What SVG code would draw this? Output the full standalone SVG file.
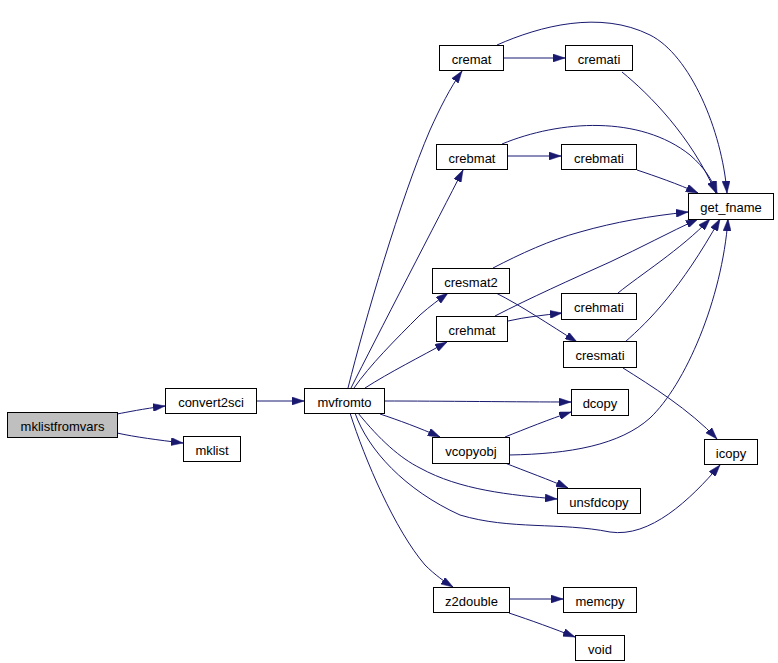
<svg xmlns="http://www.w3.org/2000/svg" width="778" height="663" viewBox="0 0 778 663">
<style>
.node rect{fill:#ffffff;stroke:#000000;stroke-width:1}
.node.root rect{fill:#bfbfbf}
.node text{font-family:"Liberation Sans",Arial,sans-serif;font-size:13px;fill:#000000;text-anchor:middle}
.edges path{fill:none;stroke:#191970;stroke-width:1;marker-end:url(#arr)}
</style>
<defs>
<marker id="arr" viewBox="0 0 12 8" refX="12" refY="4" markerWidth="12" markerHeight="8" markerUnits="userSpaceOnUse" orient="auto">
<path d="M0,0 L12,4 L0,8 Z" fill="#191970" stroke="#191970" stroke-width="0.5"/>
</marker>
</defs>
<rect width="778" height="663" fill="#ffffff"/>
<g class="edges" id="edges">
<path d="M117,414 C128,412 142,409 165,406"/>
<path d="M117,433 C135,437 158,440 183,443"/>
<path d="M256,401 L304,401"/>
<path d="M384,401 C440,401 520,402 571,402"/>
<path d="M380,414 C398,420 420,428 440,437"/>
<path d="M358,413 C380,440 400,458 420,468 C460,490 510,495 557,499"/>
<path d="M355,413 C368,450 405,490 460,515 C510,530 560,522 610,532 C650,538 690,500 720,465"/>
<path d="M350,413 C365,460 395,530 425,565 C435,575 445,582 453,587"/>
<path d="M505,437 C525,429 550,419 571,412"/>
<path d="M505,463 C525,471 550,480 568,488"/>
<path d="M509,455 C570,454 620,445 650,418 C685,385 722,300 728,219"/>
<path d="M509,599 L563,599"/>
<path d="M509,613 C530,620 555,629 575,637"/>
<path d="M348,388 C365,320 400,200 430,130 C440,108 450,88 462,71"/>
<path d="M351,388 C375,340 440,215 463,170"/>
<path d="M354,388 C370,365 395,340 420,315 C430,306 440,299 448,293"/>
<path d="M365,388 C390,372 420,357 447,342"/>
<path d="M503,58 L565,58"/>
<path d="M497,45 C540,26 600,10 650,35 C690,55 722,130 727,193"/>
<path d="M622,72 C650,95 690,135 716,193"/>
<path d="M507,156 L561,156"/>
<path d="M502,144 C560,120 640,115 690,155 C705,168 712,180 717,193"/>
<path d="M637,170 C655,176 678,184 698,193"/>
<path d="M493,268 C520,254 550,240 580,232 C615,222 650,216 688,212"/>
<path d="M495,316 C530,298 570,280 610,262 C640,248 670,232 698,219"/>
<path d="M508,321 C525,317 545,315 562,313"/>
<path d="M496,293 C520,305 550,325 577,342"/>
<path d="M618,293 C640,275 680,250 710,219"/>
<path d="M625,342 C650,320 680,290 720,219"/>
<path d="M623,368 C650,385 690,410 717,439"/>
</g>
<g class="node root" id="mklistfromvars"><rect x="7.5" y="412.5" width="110" height="25"/><text x="62.5" y="430.5">mklistfromvars</text></g>
<g class="node" id="convert2sci"><rect x="165.5" y="388.5" width="91" height="25"/><text x="211" y="406.5">convert2sci</text></g>
<g class="node" id="mklist"><rect x="183.5" y="436.5" width="57" height="25"/><text x="212" y="454.5">mklist</text></g>
<g class="node" id="mvfromto"><rect x="304.5" y="388.5" width="80" height="25"/><text x="344.5" y="406.5">mvfromto</text></g>
<g class="node" id="cremat"><rect x="439.5" y="45.5" width="64" height="25"/><text x="471.5" y="63.5">cremat</text></g>
<g class="node" id="cremati"><rect x="565.5" y="45.5" width="67" height="25"/><text x="599" y="63.5">cremati</text></g>
<g class="node" id="crebmat"><rect x="436.5" y="144.5" width="71" height="25"/><text x="472" y="162.5">crebmat</text></g>
<g class="node" id="crebmati"><rect x="561.5" y="144.5" width="75" height="25"/><text x="599" y="162.5">crebmati</text></g>
<g class="node" id="get_fname"><rect x="688.5" y="193.5" width="85" height="26"/><text x="731" y="212">get_fname</text></g>
<g class="node" id="cresmat2"><rect x="432.5" y="268.5" width="77" height="25"/><text x="471" y="286.5">cresmat2</text></g>
<g class="node" id="crehmat"><rect x="436.5" y="316.5" width="71" height="25"/><text x="472" y="334.5">crehmat</text></g>
<g class="node" id="crehmati"><rect x="561.5" y="293.5" width="75" height="26"/><text x="599" y="312">crehmati</text></g>
<g class="node" id="cresmati"><rect x="563.5" y="341.5" width="73" height="26"/><text x="600" y="360">cresmati</text></g>
<g class="node" id="dcopy"><rect x="571.5" y="389.5" width="57" height="26"/><text x="600" y="408">dcopy</text></g>
<g class="node" id="vcopyobj"><rect x="432.5" y="437.5" width="77" height="26"/><text x="471" y="456">vcopyobj</text></g>
<g class="node" id="icopy"><rect x="704.5" y="439.5" width="53" height="25"/><text x="731" y="457.5">icopy</text></g>
<g class="node" id="unsfdcopy"><rect x="557.5" y="488.5" width="83" height="25"/><text x="599" y="506.5">unsfdcopy</text></g>
<g class="node" id="z2double"><rect x="433.5" y="587.5" width="76" height="25"/><text x="471.5" y="605.5">z2double</text></g>
<g class="node" id="memcpy"><rect x="563.5" y="587.5" width="73" height="25"/><text x="600" y="605.5">memcpy</text></g>
<g class="node" id="void"><rect x="575.5" y="635.5" width="49" height="25"/><text x="600" y="653.5">void</text></g>
</svg>
